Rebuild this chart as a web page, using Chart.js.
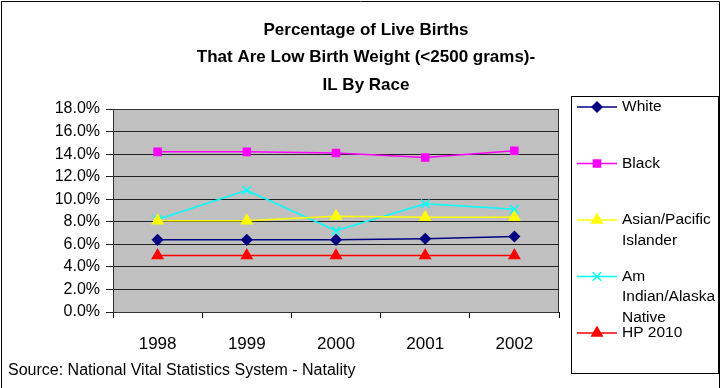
<!DOCTYPE html>
<html>
<head>
<meta charset="utf-8">
<script src="https://cdn.jsdelivr.net/npm/chart.js@4"></script>
<style>
  html, body { margin: 0; padding: 0; background: #fff; }
  #wrap { width: 721px; height: 388px; position: relative; }
</style>
</head>
<body>
<div id="wrap"><canvas id="chart"></canvas></div>
<script>
const years = ['1998', '1999', '2000', '2001', '2002'];

const white  = [6.4, 6.4, 6.4, 6.5, 6.7];
const black  = [14.2, 14.2, 14.1, 13.7, 14.3];
const asian  = [8.1, 8.1, 8.5, 8.4, 8.4];
const amInd  = [8.2, 10.8, 7.2, 9.6, 9.1];
const hp2010 = [5.0, 5.0, 5.0, 5.0, 5.0];

const seriesNames = ['White', 'Black', 'Asian/Pacific Islander', 'Am Indian/Alaska Native', 'HP 2010'];
const legendLines = [['White'], ['Black'], ['Asian/Pacific', 'Islander'], ['Am', 'Indian/Alaska', 'Native'], ['HP 2010']];
const titleLines  = ['Percentage of Live Births', 'That Are Low Birth Weight (<2500 grams)-', 'IL By Race'];
const sourceNote  = 'Source: National Vital Statistics System - Natality';

const FONT = '"Liberation Sans", Arial, sans-serif';

const styles = [
    { color: '#000080', point: 'rectRot',  radius: 5 },
    { color: '#ff00ff', point: 'rect',     radius: 5 },
    { color: '#ffff00', point: 'triangle', radius: 6 },
    { color: '#00ffff', point: 'crossRot', radius: 6 },
    { color: '#ff0000', point: 'triangle', radius: 6 },
];

const values = [white, black, asian, amInd, hp2010];

// grey plot background, outer frame, title, source and the boxed legend
const decor = {
    id: 'decor',
    beforeDraw(chart) {
        const { ctx, chartArea: a } = chart;
        ctx.save();
        ctx.fillStyle = '#c0c0c0';
        ctx.fillRect(a.left, a.top, a.right - a.left, a.bottom - a.top);
        ctx.restore();
    },
    afterDraw(chart) {
        const { ctx, chartArea: a } = chart;
        ctx.save();

        ctx.strokeStyle = '#333';
        ctx.lineWidth = 1;
        ctx.strokeRect(a.left + 0.5, a.top + 0.5, a.right - a.left - 1, a.bottom - a.top);

        // outer frame (left, top, right)
        ctx.strokeStyle = '#000';
        ctx.beginPath();
        ctx.moveTo(1.5, 388); ctx.lineTo(1.5, 1.5); ctx.lineTo(719.5, 1.5); ctx.lineTo(719.5, 388);
        ctx.stroke();

        ctx.fillStyle = '#000';
        ctx.textAlign = 'center';
        ctx.textBaseline = 'middle';
        ctx.font = 'bold 17px ' + FONT;
        titleLines.forEach((t, i) => ctx.fillText(t, 366, 30 + i * 27.5));

        ctx.textAlign = 'left';
        ctx.font = '16px ' + FONT;
        ctx.fillText(sourceNote, 8, 371);

        // legend box
        ctx.strokeStyle = '#000';
        ctx.strokeRect(571.5, 96.5, 147, 277);
        ctx.font = '15.5px ' + FONT;
        legendLines.forEach((lines, i) => {
            const y = 107 + i * 56.5;
            const st = styles[i];
            ctx.strokeStyle = st.color;
            ctx.lineWidth = 1.5;
            ctx.beginPath();
            ctx.moveTo(577, y); ctx.lineTo(617, y);
            ctx.stroke();
            ctx.fillStyle = st.color;
            Chart.helpers.drawPoint(ctx, {
                pointStyle: st.point, radius: st.radius, rotation: 0, borderWidth: 1.5,
            }, 597, y);
            ctx.fillStyle = '#000';
            lines.forEach((l, j) => ctx.fillText(l, 622, y + j * 20.5));
        });
        ctx.restore();
    },
};

new Chart(document.getElementById('chart'), {
    type: 'line',
    data: {
        labels: years,
        datasets: values.map((v, i) => ({
            label:            seriesNames[i],
            data:             v,
            borderColor:      styles[i].color,
            backgroundColor:  styles[i].color,
            borderWidth:      1.5,
            pointStyle:       styles[i].point,
            pointRadius:      styles[i].radius,
            pointBorderWidth: 1.5,
            tension:          0,
        })),
    },
    options: {
        responsive: true,
        maintainAspectRatio: false,
        animation: false,
        layout: { padding: { left: 8, right: 162, top: 109, bottom: 0 } },
        scales: {
            x: {
                offset: true,
                grid: {
                    offset: true, drawOnChartArea: false, tickLength: 6,
                    color: '#000',
                },
                border: { color: '#000' },
                ticks: {
                    color: '#000', padding: 16,
                    font: { family: FONT, size: 17 },
                    maxRotation: 0,
                },
                afterFit: s => { s.height = 76; },
            },
            y: {
                min: 0, max: 18,
                grid: { color: '#222', tickLength: 7 },
                border: { color: '#000' },
                ticks: {
                    stepSize: 2, color: '#000', padding: 6,
                    font: { family: FONT, size: 16 },
                    callback: v => v.toFixed(1) + '%',
                },
                afterFit: s => { s.width = 105; },
            },
        },
        plugins: {
            legend: { display: false },
            title: { display: false },
            tooltip: { enabled: false },
        },
    },
    plugins: [decor],
});
</script>
</body>
</html>
